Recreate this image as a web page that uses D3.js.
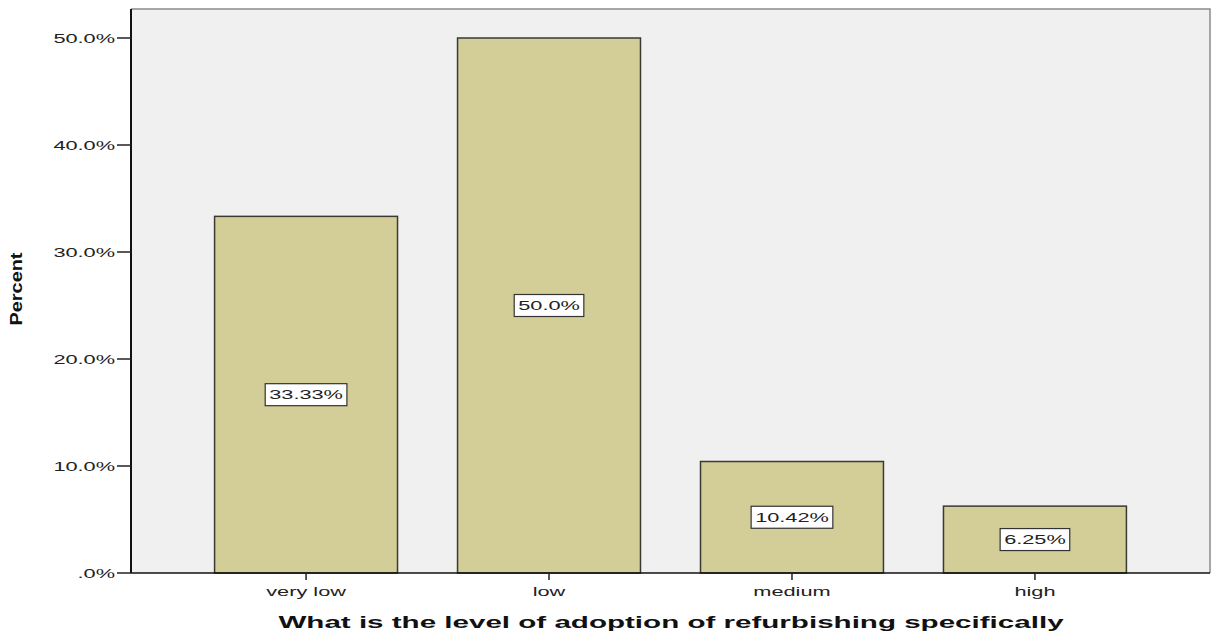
<!DOCTYPE html>
<html>
<head>
<meta charset="utf-8">
<script src="https://cdn.jsdelivr.net/npm/d3@7"></script>
<style>
  html, body { margin: 0; padding: 0; background: #ffffff; }
  svg { display: block; }
  text { font-family: "Liberation Sans", Arial, sans-serif; fill: #222; }
</style>
</head>
<body>
<svg id="chart" width="1214" height="635"></svg>
<script>
// Survey results: level of adoption of refurbishing
const categories = ["very low", "low", "medium", "high"];
const percents = [33.33, 50.0, 10.42, 6.25];
const valueLabels = ["33.33%", "50.0%", "10.42%", "6.25%"];
const yTicks = [0, 10, 20, 30, 40, 50];
const yTickLabels = [".0%", "10.0%", "20.0%", "30.0%", "40.0%", "50.0%"];
const xTitle = "What is the level of adoption of refurbishing specifically";
const yTitle = "Percent";

const svg = d3.select("#chart");
const plot = { left: 131, right: 1210, top: 9, bottom: 573 };
const SX = 1.74; // horizontal stretch applied to the lettering

const x = d3.scaleBand()
  .domain(categories)
  .range([plot.left, plot.right])
  .paddingInner(0.247)
  .paddingOuter(0.344);

const y = d3.scaleLinear()
  .domain([0, 50])
  .range([plot.bottom, 38]);

// helper: text stretched horizontally about its anchor point
function stretchedText(g, tx, ty, str, opts) {
  const t = g.append("text")
    .attr("transform", `translate(${tx},${ty}) scale(${opts.sx ?? SX},1)`)
    .attr("text-anchor", opts.anchor || "middle")
    .attr("font-size", opts.size || 12.5)
    .attr("font-weight", opts.weight || "normal")
    .text(str);
  if (opts.fill) t.style("fill", opts.fill);
  return t;
}

// plot background
svg.append("rect")
  .attr("x", plot.left).attr("y", plot.top)
  .attr("width", plot.right - plot.left).attr("height", plot.bottom - plot.top)
  .attr("fill", "#f0f0f0")
  .attr("stroke", "none");

// top and right frame lines
svg.append("path")
  .attr("d", `M${plot.left},${plot.top}H${plot.right}V${plot.bottom}`)
  .attr("fill", "none")
  .attr("stroke", "#8a8a8a")
  .attr("stroke-width", 1.5);

// bars
svg.append("g").selectAll("rect")
  .data(categories)
  .join("rect")
  .attr("x", d => x(d))
  .attr("y", (d, i) => y(percents[i]))
  .attr("width", x.bandwidth())
  .attr("height", (d, i) => y(0) - y(percents[i]))
  .attr("fill", "#d3ce97")
  .attr("stroke", "#3a3a32")
  .attr("stroke-width", 1.5);

// value labels in boxes at bar mid-height
const lab = svg.append("g");
categories.forEach((c, i) => {
  const cx = x(c) + x.bandwidth() / 2;
  const cy = y(percents[i] / 2);
  const g = lab.append("g");
  const t = stretchedText(g, cx, cy + 4.5, valueLabels[i], { size: 12.5 });
  const w = t.node().getComputedTextLength() * SX;
  g.insert("rect", "text")
    .attr("x", cx - w / 2 - 4)
    .attr("y", cy - 11)
    .attr("width", w + 8)
    .attr("height", 22)
    .attr("fill", "#ffffff")
    .attr("stroke", "#333333")
    .attr("stroke-width", 1.2);
});

// y axis
const yAxis = svg.append("g");
yAxis.append("line")
  .attr("x1", plot.left).attr("x2", plot.left)
  .attr("y1", plot.top).attr("y2", plot.bottom)
  .attr("stroke", "#111").attr("stroke-width", 2);
yTicks.forEach((v, i) => {
  yAxis.append("line")
    .attr("x1", plot.left - 14).attr("x2", plot.left)
    .attr("y1", y(v)).attr("y2", y(v))
    .attr("stroke", "#222").attr("stroke-width", 1.5);
  stretchedText(yAxis, plot.left - 16, y(v) + 4.5, yTickLabels[i], { anchor: "end", size: 12.5 });
});

// x axis
const xAxis = svg.append("g");
xAxis.append("line")
  .attr("x1", plot.left).attr("x2", plot.right)
  .attr("y1", plot.bottom).attr("y2", plot.bottom)
  .attr("stroke", "#111").attr("stroke-width", 1.5);
categories.forEach(c => {
  const cx = x(c) + x.bandwidth() / 2;
  xAxis.append("line")
    .attr("x1", cx).attr("x2", cx)
    .attr("y1", plot.bottom).attr("y2", plot.bottom + 7)
    .attr("stroke", "#222").attr("stroke-width", 1.5);
  stretchedText(xAxis, cx, 596, c, { size: 12.5 });
});

// axis titles
stretchedText(svg, 671, 628, xTitle,
  { size: 17, weight: "bold", fill: "#111" });
svg.append("text")
  .attr("transform", `translate(22,289) rotate(-90)`)
  .attr("text-anchor", "middle")
  .attr("font-size", 17)
  .attr("font-weight", "bold")
  .attr("textLength", 73)
  .attr("lengthAdjust", "spacingAndGlyphs")
  .style("fill", "#111")
  .text(yTitle);
</script>
</body>
</html>
